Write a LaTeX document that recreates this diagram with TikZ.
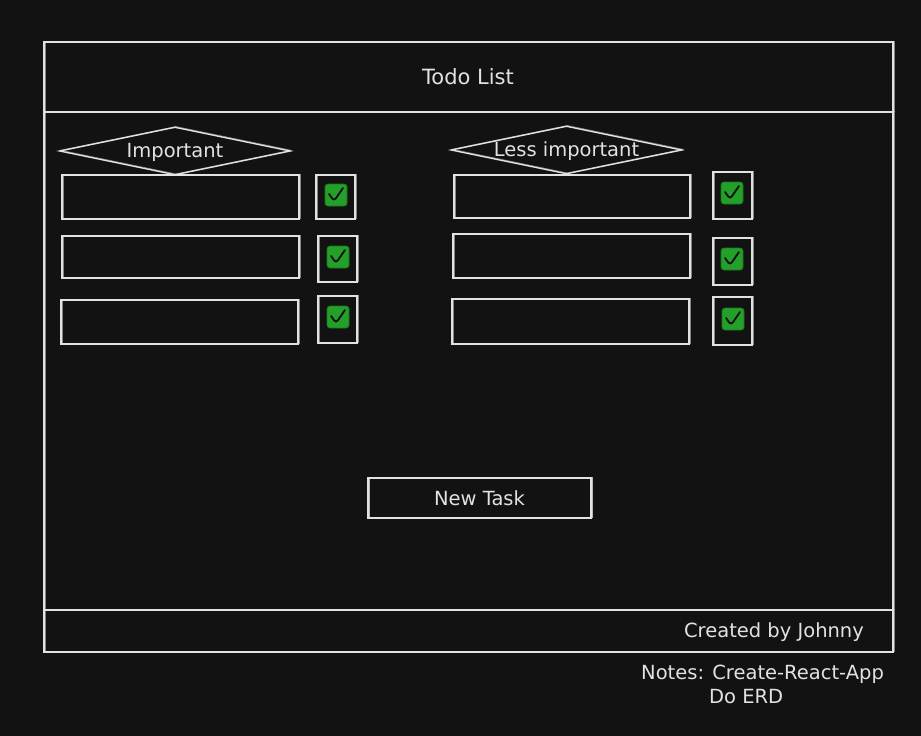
\documentclass[tikz,border=0pt]{standalone}
\usepackage{fontspec}
\setmainfont{DejaVu Sans}
\usetikzlibrary{shapes.geometric}
\definecolor{bg}{HTML}{121212}
\definecolor{ink}{HTML}{E2E2E2}
\definecolor{chkfill}{HTML}{24A02A}
\definecolor{chkline}{HTML}{167A1C}
\definecolor{tick}{HTML}{101010}
\begin{document}
\begin{tikzpicture}[x=1pt,y=-1pt,
  sk/.style={draw=ink, line width=1.4pt, inner sep=0pt,
    postaction={draw=ink, line width=0.6pt, opacity=0.55,
      transform canvas={shift={(0.9pt,0.8pt)}}}},
  box/.style={sk, rectangle, minimum width=#1},
  frame/.style={sk, rectangle, minimum width=39pt},
  lbl/.style={text=ink, font=\fontsize{19.5}{23}\selectfont, inner sep=0pt},
  dia/.style={sk, diamond, minimum width=231pt, minimum height=48pt,
    label={[lbl, yshift=-1pt]center:#1}},
  green/.style={rectangle, rounded corners=3pt, fill=chkfill, draw=chkline, line width=0.8pt,
    minimum width=22pt, minimum height=22pt, inner sep=0pt,
    path picture={\draw[tick, line width=1.8pt, line join=round, line cap=round]
      ([xshift=-7pt,yshift=1pt]path picture bounding box.center) --
      ([xshift=-2pt,yshift=-6pt]path picture bounding box.center) --
      ([xshift=7pt,yshift=7pt]path picture bounding box.center);}}
]
\useasboundingbox (0,0) rectangle (921,736);
\fill[bg] (0,0) rectangle (921,736);

% frame parts
\node[box=849pt, minimum height=70pt] (header) at (468.5,77) {};
\node[box=849pt, minimum height=498pt] (body) at (468.5,361) {};
\node[box=849pt, minimum height=42pt] (footer) at (468.5,631) {};
\node[lbl, font=\fontsize{21}{25}\selectfont] (title) at (468,77) {Todo List};

% diamonds
\node[dia=Important] (imp) at (175,151) {};
\node[dia=Less important] (less) at (566.5,150) {};

% left column
\node[box=237pt, minimum height=44pt] (l1) at (180.5,197) {};
\node[box=237pt, minimum height=42pt] (l2) at (180.5,257) {};
\node[box=237pt, minimum height=44pt] (l3) at (179.5,322) {};
\node[frame, minimum height=44pt] (lf1) at (335.5,197) {};
\node[frame, minimum height=46pt] (lf2) at (337.5,259) {};
\node[frame, minimum height=47pt] (lf3) at (337.5,319.5) {};
\node[green] (lg1) at (336,195) {};
\node[green] (lg2) at (338,257) {};
\node[green] (lg3) at (338,317) {};

% right column
\node[box=236pt, minimum height=43pt] (r1) at (572,196.5) {};
\node[box=237pt, minimum height=44pt] (r2) at (571.5,256) {};
\node[box=237pt, minimum height=45pt] (r3) at (570.5,321.5) {};
\node[frame, minimum height=47pt] (rf1) at (732.5,195.5) {};
\node[frame, minimum height=47pt] (rf2) at (732.5,261.5) {};
\node[frame, minimum height=48pt] (rf3) at (732.5,321) {};
\node[green] (rg1) at (732,193) {};
\node[green] (rg2) at (732,259) {};
\node[green] (rg3) at (733,319) {};

% button
\node[box=223pt, minimum height=40pt, lbl, sk] (newtask) at (479.5,498) {New Task};

% footer text and notes
\node[lbl] (created) at (774,632) {Created by Johnny};
\node[lbl, anchor=west] (notes1) at (641,674) {Notes: Create-React-App};
\node[lbl, anchor=west] (notes2) at (709,697) {Do ERD};
\end{tikzpicture}
\end{document}
